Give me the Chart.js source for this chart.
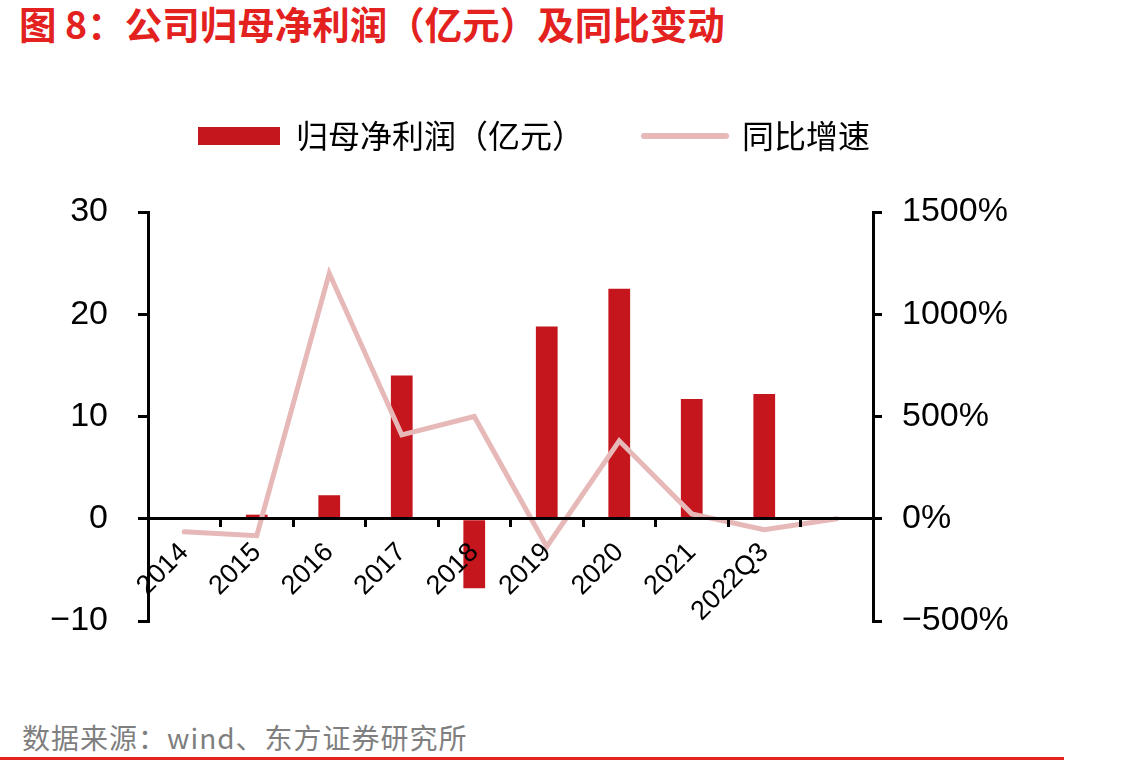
<!DOCTYPE html>
<html>
<head>
<meta charset="utf-8">
<script src="https://cdn.jsdelivr.net/npm/chart.js@4.4.0/dist/chart.umd.min.js"></script>
<style>
  html, body { margin: 0; padding: 0; background: #ffffff; }
  body { width: 1135px; height: 766px; position: relative; overflow: hidden; }
  #title { position: absolute; left: 19px; top: -1px; font-family: "Noto Sans CJK SC", sans-serif; font-weight: bold; font-size: 37.5px; line-height: 48px; color: #E3211E; white-space: nowrap; }
  #wrap { position: absolute; left: 0; top: 60px; width: 1135px; height: 650px; }
  #footer { position: absolute; left: 22px; top: 718px; font-family: "Noto Sans CJK SC", sans-serif; font-size: 28px; line-height: 38px; color: #7F7F7F; letter-spacing: 1px; white-space: nowrap; }
  #rule { position: absolute; left: 0; top: 757px; width: 1064px; height: 3px; background: #E3231F; }
</style>
</head>
<body>
<div id="title">图 8：公司归母净利润（亿元）及同比变动</div>
<div id="wrap"><canvas id="c" width="1135" height="650"></canvas></div>
<div id="footer">数据来源：wind、东方证券研究所</div>
<div id="rule"></div>
<script>
const categories = ['2014', '2015', '2016', '2017', '2018', '2019', '2020', '2021', '2022Q3', ''];
const netProfit = [null, 0.4, 2.3, 14.0, -6.8, 18.8, 22.5, 11.7, 12.2, null];
const yoyGrowth = [-64, -83, 1200, 410, 500, -137, 381, 24, -54, 0];
const leftTicks = [-10, 0, 10, 20, 30];
const rightTicks = [-500, 0, 500, 1000, 1500];
const seriesNames = ['归母净利润（亿元）', '同比增速'];

const BAR_COLOR = '#C5161D';
const LINE_COLOR = '#E6B8B7';
const tickFont = { family: '"Liberation Sans", Arial, sans-serif', size: 34 };

function fmtNum(v) { return String(v).replace('-', '\u2212'); }

new Chart(document.getElementById('c'), {
  data: {
    labels: categories,
    datasets: [
      {
        type: 'bar',
        label: seriesNames[0],
        data: netProfit,
        yAxisID: 'y',
        backgroundColor: BAR_COLOR,
        borderWidth: 0,
        barPercentage: 0.3,
        categoryPercentage: 1.0,
        order: 2
      },
      {
        type: 'line',
        label: seriesNames[1],
        data: yoyGrowth,
        yAxisID: 'y1',
        borderColor: LINE_COLOR,
        backgroundColor: LINE_COLOR,
        borderWidth: 5,
        pointRadius: 0,
        tension: 0,
        borderCapStyle: 'round',
        borderJoinStyle: 'miter',
        order: 1
      }
    ]
  },
  options: {
    responsive: false,
    devicePixelRatio: 1,
    animation: false,
    layout: { padding: { left: 48, right: 115, top: 0, bottom: 89 } },
    plugins: {
      tooltip: { enabled: false },
      legend: {
        display: true,
        position: 'top',
        align: 'center',
        labels: {
          usePointStyle: true,
          pointStyleWidth: 82,
          boxHeight: 18,
          padding: 60,
          color: '#000000',
          font: { family: '"Noto Sans CJK SC", sans-serif', size: 32 },
          generateLabels: function() {
            return [
              { text: seriesNames[0], fillStyle: BAR_COLOR, strokeStyle: BAR_COLOR, lineWidth: 0, pointStyle: 'rect', datasetIndex: 0, fontColor: '#000' },
              { text: seriesNames[1], fillStyle: LINE_COLOR, strokeStyle: LINE_COLOR, lineWidth: 6, lineCap: 'round', pointStyle: 'line', datasetIndex: 1, fontColor: '#000' }
            ];
          }
        }
      },
      subtitle: {
        display: true,
        text: '',
        position: 'top',
        weight: 500,
        font: { size: 10, lineHeight: 1 },
        padding: { top: 40, bottom: 0 }
      }
    },
    scales: {
      x: {
        type: 'category',
        position: { y: 0 },
        offset: true,
        grid: { display: true, offset: true, drawOnChartArea: false, drawTicks: true, tickLength: 7, lineWidth: 3, color: '#000', tickColor: '#000', z: 1 },
        border: { display: true, color: '#000', width: 3, z: 1 },
        ticks: { color: '#000', font: { family: '"Liberation Sans", Arial, sans-serif', size: 27 }, minRotation: 45, maxRotation: 45, autoSkip: false, padding: 11, z: 2 }
      },
      y: {
        type: 'linear',
        position: 'left',
        min: -10,
        max: 30,
        afterBuildTicks: function(s) { s.ticks = leftTicks.map(v => ({ value: v })); },
        afterFit: function(s) { s.width = 100; },
        grid: { display: true, drawOnChartArea: false, drawTicks: true, tickLength: 10, lineWidth: 3, color: '#000', tickColor: '#000' },
        border: { display: true, color: '#000', width: 3 },
        ticks: { color: '#000', font: tickFont, padding: 30, callback: v => fmtNum(v) }
      },
      y1: {
        type: 'linear',
        position: 'right',
        min: -500,
        max: 1500,
        afterBuildTicks: function(s) { s.ticks = rightTicks.map(v => ({ value: v })); },
        afterFit: function(s) { s.width = 147; },
        grid: { display: true, drawOnChartArea: false, drawTicks: true, tickLength: 9, lineWidth: 3, color: '#000', tickColor: '#000' },
        border: { display: true, color: '#000', width: 3 },
        ticks: { color: '#000', font: tickFont, padding: 20, callback: v => fmtNum(v) + '%' }
      }
    }
  }
});
</script>
</body>
</html>
